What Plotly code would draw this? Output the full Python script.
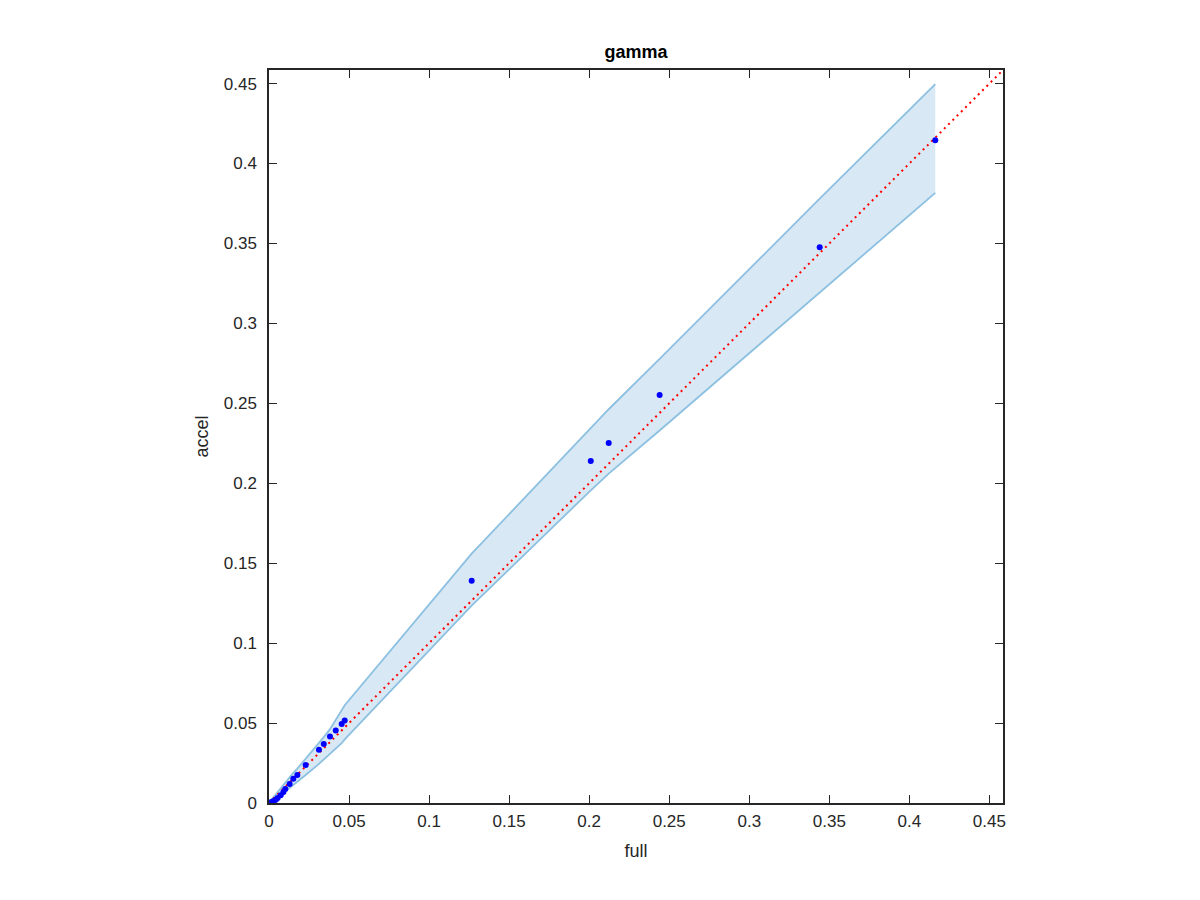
import plotly.graph_objects as go

# data
full = [0.0, 0.0015, 0.0029, 0.0042, 0.0054, 0.0073, 0.0090, 0.0102, 0.0129, 0.0152,
        0.0177, 0.0229, 0.0312, 0.0342, 0.0381, 0.0417, 0.0454, 0.0473, 0.1266, 0.2010,
        0.2122, 0.2440, 0.3440, 0.4162]
accel = [0.0002, 0.0006, 0.0013, 0.0021, 0.0031, 0.0048, 0.0069, 0.0087, 0.0119, 0.0152,
         0.0175, 0.0237, 0.0333, 0.0369, 0.0416, 0.0454, 0.0494, 0.0516, 0.1390, 0.2140,
         0.2252, 0.2552, 0.3477, 0.4146]
upper = [0.0004, 0.0019, 0.0036, 0.0052, 0.0068, 0.0092, 0.0112, 0.0126, 0.0160, 0.0188,
         0.0215, 0.0276, 0.0375, 0.0412, 0.0462, 0.0520, 0.0578, 0.0612, 0.1560, 0.2350,
         0.2463, 0.2778, 0.3780, 0.4496]
lower = [0.0000, 0.0009, 0.0018, 0.0027, 0.0036, 0.0050, 0.0063, 0.0072, 0.0093, 0.0112,
         0.0132, 0.0175, 0.0245, 0.0272, 0.0306, 0.0340, 0.0374, 0.0398, 0.1234, 0.1956,
         0.2060, 0.2330, 0.3195, 0.3816]
lim = 0.4585
ticks = [0, 0.05, 0.1, 0.15, 0.2, 0.25, 0.3, 0.35, 0.4, 0.45]
tick_labels = ["0", "0.05", "0.1", "0.15", "0.2", "0.25", "0.3", "0.35", "0.4", "0.45"]

fill_col = "rgb(216,232,244)"
edge_col = "rgb(140,192,225)"
ink = "#262626"
font = "Liberation Sans, Arial, Helvetica, sans-serif"

fig = go.Figure()
fig.add_trace(go.Scatter(x=full + full[::-1], y=upper + lower[::-1], fill="toself",
                         fillcolor=fill_col, line=dict(width=0), mode="lines",
                         hoverinfo="skip", showlegend=False))
fig.add_trace(go.Scatter(x=full, y=upper, mode="lines", line=dict(color=edge_col, width=1.8),
                         showlegend=False))
fig.add_trace(go.Scatter(x=full, y=lower, mode="lines", line=dict(color=edge_col, width=1.8),
                         showlegend=False))
fig.add_trace(go.Scatter(x=[0, lim], y=[0, lim], mode="lines",
                         line=dict(color="red", width=2, dash="2px,4px"), showlegend=False))
fig.add_trace(go.Scatter(x=full, y=accel, mode="markers",
                         marker=dict(color="blue", size=6), showlegend=False))

axis_common = dict(range=[0, lim], showgrid=False, zeroline=False, showline=True,
                   linecolor=ink, linewidth=1.5, mirror="ticks", ticks="inside",
                   ticklen=8, tickwidth=1.3, tickcolor=ink, tickvals=ticks,
                   ticktext=tick_labels, tickfont=dict(family=font, size=17, color=ink))

fig.update_layout(
    width=1200, height=900,
    margin=dict(l=261, r=205, t=62, b=105),
    paper_bgcolor="white", plot_bgcolor="white",
    xaxis=dict(**axis_common, ticklabelstandoff=2,
               title=dict(text="full", font=dict(family=font, size=18, color=ink), standoff=14)),
    yaxis=dict(**axis_common, ticklabelstandoff=7,
               title=dict(text="accel", font=dict(family=font, size=18, color=ink), standoff=10)),
    title=dict(text="<b>gamma</b>", x=(261 + 995) / 2 / 1200, xanchor="center",
               y=1 - 44 / 900, yanchor="middle", font=dict(family=font, size=18, color="black")),
)

fig.write_html("out.html")
